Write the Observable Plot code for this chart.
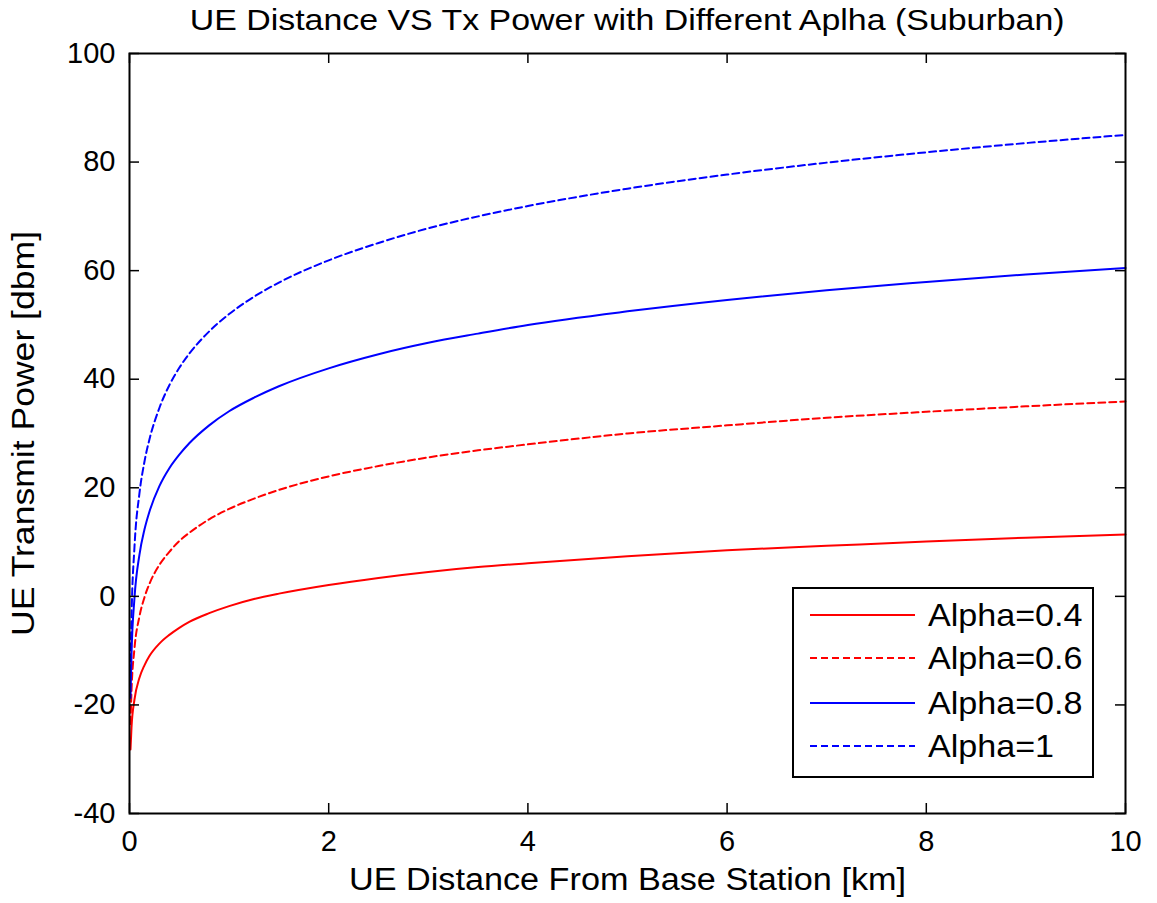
<!DOCTYPE html>
<html>
<head>
<meta charset="utf-8">
<script src="https://cdn.jsdelivr.net/npm/d3@7"></script>
<script src="https://cdn.jsdelivr.net/npm/@observablehq/plot@0.6"></script>
<style>
  body { margin: 0; background: #fff; }
  #fig { position: relative; width: 1157px; height: 903px; font-family: Arial, "Liberation Sans", sans-serif; color: #000; }
  #title { position: absolute; left: 129px; width: 996px; top: 0; height: 44px; line-height: 40px; text-align: center; font-size: 30px; white-space: nowrap; }
  #title span { display: inline-block; transform: scaleX(1.13); }
  #chart { position: absolute; left: 0; top: 44px; }
  #legend { position: absolute; left: 792px; top: 587px; }
</style>
</head>
<body>
<div id="fig">
  <div id="title"><span>UE Distance VS Tx Power with Different Aplha (Suburban)</span></div>
  <div id="chart"></div>
  <div id="legend"></div>
</div>
<script>
// UE distance from the base station (km)
const distanceKm = [0.01, 0.02, 0.05, 0.1, 0.15, 0.2, 0.3, 0.4, 0.5, 0.6, 0.8, 1, 1.25, 1.5, 2, 2.5, 3, 3.5, 4, 5, 6, 7, 8, 9, 10];

// UE transmit power (dBm) for each path-loss compensation factor
const powerAlpha04 = [-28.2, -24.2, -19.0, -15.0, -12.7, -11.0, -8.7, -7.1, -5.8, -4.7, -3.1, -1.8, -0.5, 0.5, 2.1, 3.4, 4.5, 5.4, 6.1, 7.4, 8.5, 9.3, 10.1, 10.8, 11.4];
const powerAlpha06 = [-23.5, -17.5, -9.6, -3.7, -0.2, 2.3, 5.8, 8.2, 10.2, 11.7, 14.2, 16.1, 18.0, 19.6, 22.1, 24.0, 25.6, 26.9, 28.0, 30.0, 31.5, 32.9, 34.0, 35.0, 35.9];
const powerAlpha08 = [-18.7, -10.8, -0.3, 7.7, 12.3, 15.6, 20.3, 23.6, 26.1, 28.2, 31.5, 34.1, 36.6, 38.7, 42.0, 44.6, 46.7, 48.4, 50.0, 52.5, 54.6, 56.4, 57.9, 59.3, 60.5];
const powerAlpha10 = [-14.0, -4.1, 9.1, 19.0, 24.8, 28.9, 34.7, 38.9, 42.1, 44.7, 48.8, 52.0, 55.2, 57.8, 61.9, 65.1, 67.8, 70.0, 71.9, 75.1, 77.7, 79.9, 81.8, 83.5, 85.0];

const seriesNames = ["Alpha=0.4", "Alpha=0.6", "Alpha=0.8", "Alpha=1"];
const seriesPower = [powerAlpha04, powerAlpha06, powerAlpha08, powerAlpha10];
const seriesColors = ["#ff0000", "#ff0000", "#0000ff", "#0000ff"];
const seriesDash = [null, "7,4", null, "7,4"];

const xTicks = [0, 2, 4, 6, 8, 10];
const yTicks = [-40, -20, 0, 20, 40, 60, 80, 100];

// Layout
const W = 1157, H = 859;
const mTop = 9, mBottom = 90, mLeft = 129, mRight = 32;
const innerW = W - mLeft - mRight, innerH = H - mTop - mBottom;
const tickLen = 10;

const series = seriesNames.map((name, i) => ({
  name,
  color: seriesColors[i],
  dash: seriesDash[i],
  rows: distanceKm.map((d, j) => ({ distance: d, power: seriesPower[i][j] }))
}));

const plainNumber = d => String(d);

const chart = Plot.plot({
  width: W,
  height: H,
  marginTop: mTop,
  marginBottom: mBottom,
  marginLeft: mLeft,
  marginRight: mRight,
  style: { fontFamily: "Arial, 'Liberation Sans', sans-serif", fontSize: "29px", color: "#000", background: "#fff", overflow: "visible" },
  x: { domain: [0, 10] },
  y: { domain: [-40, 100] },
  marks: [
    // curves
    ...series.map(s => Plot.line(s.rows, {
      x: "distance", y: "power",
      stroke: s.color, strokeWidth: 2,
      strokeDasharray: s.dash ?? undefined,
      curve: "monotone-x"
    })),
    // inward ticks on all four sides
    Plot.tickX(xTicks, { x: d => d, insetTop: innerH - tickLen, stroke: "#000", strokeWidth: 1.5 }),
    Plot.tickX(xTicks, { x: d => d, insetBottom: innerH - tickLen, stroke: "#000", strokeWidth: 1.5 }),
    Plot.tickY(yTicks, { y: d => d, insetRight: innerW - tickLen, stroke: "#000", strokeWidth: 1.5 }),
    Plot.tickY(yTicks, { y: d => d, insetLeft: innerW - tickLen, stroke: "#000", strokeWidth: 1.5 }),
    Plot.frame({ stroke: "#000", strokeWidth: 2 }),
    Plot.axisX({
      ticks: xTicks, tickFormat: plainNumber, tickSize: 0, tickPadding: 17,
      label: "UE Distance From Base Station [km]", labelAnchor: "center", labelArrow: "none", labelOffset: 76
    }),
    Plot.axisY({
      ticks: yTicks, tickFormat: plainNumber, tickSize: 0, tickPadding: 14,
      label: "UE Transmit Power [dbm]", labelAnchor: "center", labelArrow: "none", labelOffset: 118
    })
  ]
});
document.getElementById("chart").appendChild(chart);

// Axis titles are set a little larger and wider than the tick labels
d3.select(chart).selectAll('g[aria-label="x-axis label"] text')
  .attr("font-size", 31).attr("textLength", 557).attr("lengthAdjust", "spacingAndGlyphs");
d3.select(chart).selectAll('g[aria-label="y-axis label"] text')
  .attr("font-size", 31).attr("textLength", 405).attr("lengthAdjust", "spacingAndGlyphs");

// Legend box inside the axes
const lg = { w: 300, h: 189, rowY: [28, 71, 116, 159], x0: 18, x1: 123, tx: 136 };
const legend = d3.select("#legend").append("svg")
  .attr("width", lg.w + 2).attr("height", lg.h + 2)
  .style("overflow", "visible");
legend.append("rect")
  .attr("x", 1).attr("y", 1).attr("width", lg.w).attr("height", lg.h)
  .attr("fill", "#fff").attr("stroke", "#000").attr("stroke-width", 2);
const row = legend.selectAll("g.row").data(series).join("g")
  .attr("transform", (d, i) => `translate(0,${lg.rowY[i]})`);
row.append("line")
  .attr("x1", lg.x0).attr("x2", lg.x1).attr("y1", 0).attr("y2", 0)
  .attr("stroke", d => d.color).attr("stroke-width", 2)
  .attr("stroke-dasharray", d => d.dash);
row.append("text")
  .attr("transform", `translate(${lg.tx},0) scale(1.1,1)`)
  .attr("dy", "0.36em")
  .attr("font-family", "Arial, 'Liberation Sans', sans-serif")
  .attr("font-size", 31)
  .text(d => d.name);
</script>
</body>
</html>
